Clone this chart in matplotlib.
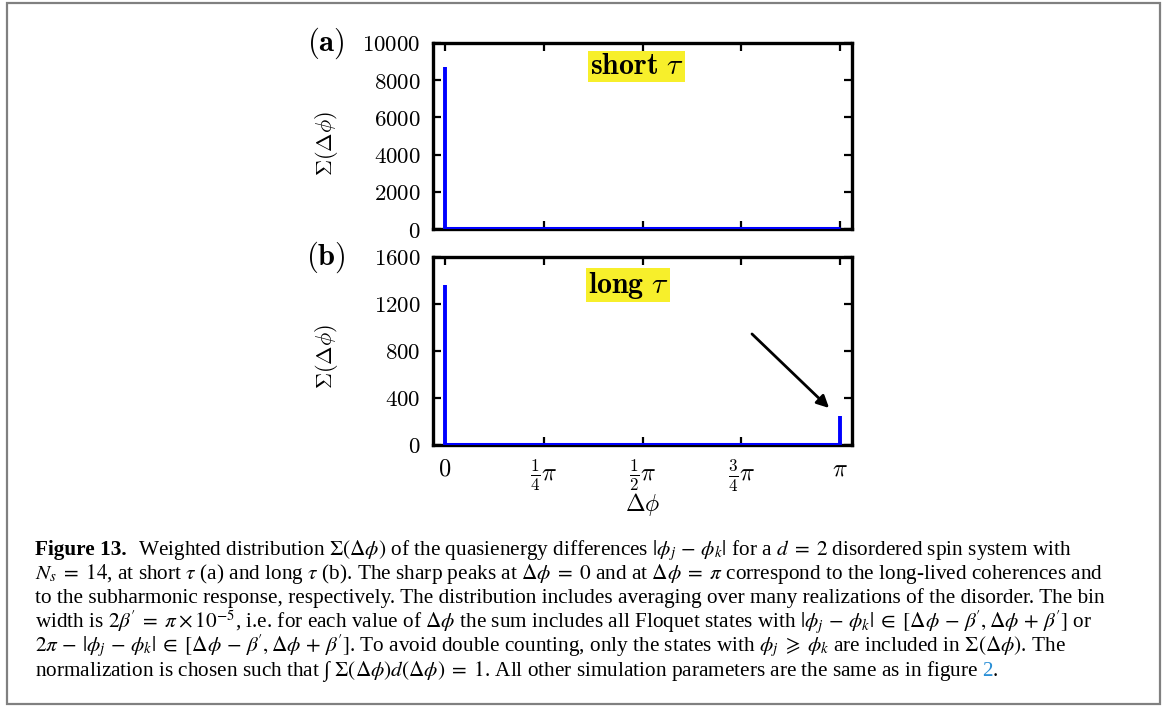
import numpy as np
import matplotlib
matplotlib.use("Agg")
import matplotlib.pyplot as plt
from matplotlib.patches import Rectangle

plt.rcParams["mathtext.fontset"] = "cm"
plt.rcParams["font.family"] = ["DejaVu Serif"]

# --- data ---
peak_pos = [0.0, np.pi]          # positions of the two sharp peaks
peak_a = [8700, 0]               # short tau
peak_b = [1360, 245]             # long tau
floor_a = 60                     # flat background level, panel (a)
floor_b = 12                     # flat background level, panel (b)

yticks_a = [0, 2000, 4000, 6000, 8000, 10000]
yticks_b = [0, 400, 800, 1200, 1600]
xticks = [0, np.pi / 4, np.pi / 2, 3 * np.pi / 4, np.pi]
xtick_labels = [r"$0$", r"$\frac{1}{4}\pi$", r"$\frac{1}{2}\pi$",
                r"$\frac{3}{4}\pi$", r"$\pi$"]

arrow_tail = (0.777 * np.pi, 945)
arrow_head = (0.972 * np.pi, 315)

EQ = r"\;=\;"
MI = r"\,-\,"
PL = r"\,+\,"
IN = r"\;\in\;"
BP = r"\beta^{\!\prime}"
caption = [
    [(r"Figure 13.", dict(fontweight="bold")),
     (r"Weighted distribution $\Sigma(\Delta\phi)$ of the quasienergy differences "
      r"$|\phi_j" + MI + r"\phi_k|$ for a $d" + EQ + r"2$ disordered spin system with", {})],
    [(r"$N_s" + EQ + r"14$, at short $\tau$ (a) and long $\tau$ (b). The sharp peaks at "
      r"$\Delta\phi" + EQ + r"0$ and at $\Delta\phi" + EQ + r"\pi$ correspond to the "
      r"long-lived coherences and", {})],
    [(r"to the subharmonic response, respectively. The distribution includes averaging "
      r"over many realizations of the disorder. The bin", {})],
    [(r"width is $2" + BP + EQ + r"\pi \times 10^{-5}$, i.e. for each value of $\Delta\phi$ "
      r"the sum includes all Floquet states with $|\phi_j" + MI + r"\phi_k|" + IN
      + r"[\Delta\phi" + MI + BP + r", \Delta\phi" + PL + BP + r"]$ or", {})],
    [(r"$2\pi" + MI + r"|\phi_j" + MI + r"\phi_k|" + IN + r"[\Delta\phi" + MI
      + BP + r", \Delta\phi" + PL + BP + r"]$. To avoid double counting, only the states "
      r"with $\phi_j \;\geqslant\; \phi_k$ are included in $\Sigma(\Delta\phi)$. The", {})],
    [(r"normalization is chosen such that ∫ $\Sigma(\Delta\phi)d(\Delta\phi)" + EQ + r"1$. "
      r"All other simulation parameters are the same as in figure", {}),
     (r"2", dict(color="#2a8fd6")),
     (r".", {})],
]

W, H = 1165, 708
fig = plt.figure(figsize=(W / 100, H / 100), dpi=100)


def px_axes(left, top, right, bottom):
    return fig.add_axes([left / W, 1 - bottom / H, (right - left) / W, (bottom - top) / H])


ax_a = px_axes(433, 43, 852, 229)
ax_b = px_axes(433, 257, 852, 445)

blue = "#0000ff"
for ax, peaks, floor, yt, tag, label, lx, ly, ylab_y in [
    (ax_a, peak_a, floor_a, yticks_a, "(a)", r"$\mathbf{short}\ \tau$", 0.486, 0.876, 0.46),
    (ax_b, peak_b, floor_b, yticks_b, "(b)", r"$\mathbf{long}\ \tau$", 0.466, 0.851, 0.468),
]:
    ax.hlines(floor, 0, np.pi, color=blue, lw=2.2, zorder=3)
    ax.vlines(peak_pos, 0, peaks, color=blue, lw=2.8, zorder=3)
    ax.set_xlim(-0.030 * np.pi, 1.030 * np.pi)
    ax.set_ylim(yt[0], yt[-1])
    ax.set_yticks(yt)
    ax.set_yticklabels([f"${v}$" for v in yt], fontsize=16.5)
    ax.set_xticks(xticks)
    ax.tick_params(direction="in", length=6, width=1.6, top=True, right=True, pad=9)
    for sp in ax.spines.values():
        sp.set_linewidth(2.4)
    ax.set_ylabel(r"$\Sigma(\Delta\phi)$", fontsize=16)
    ax.yaxis.set_label_coords(-0.222, ylab_y)
    ax.text(lx, ly, label, transform=ax.transAxes, fontsize=21.5, ha="center", va="center",
            bbox=dict(facecolor="#f7ef2b", edgecolor="none", pad=1.0))
    ax.text(-0.255, 1.0, r"$\mathbf{" + tag + "}$", transform=ax.transAxes,
            fontsize=22, ha="center", va="center")

ax_a.set_xticklabels([])
ax_b.set_xticklabels(xtick_labels, fontsize=17.5)
ax_b.set_xlabel(r"$\Delta\phi$", fontsize=17)
ax_b.xaxis.set_label_coords(0.5, -0.245)

ax_b.annotate("", xy=arrow_head, xytext=arrow_tail,
              arrowprops=dict(arrowstyle="-|>", color="black", lw=2.0,
                              mutation_scale=18, shrinkA=0, shrinkB=0))

# --- caption, laid out piece by piece ---
renderer = fig.canvas.get_renderer()
base = dict(family="Liberation Serif", math_fontfamily="stix", fontsize=15.3, va="baseline")
x0 = 35 / W
baselines = [555, 579, 603, 628, 652, 676]
for yb, parts in zip(baselines, caption):
    x = x0
    for i, (s, kw) in enumerate(parts):
        t = fig.text(x, 1 - yb / H, s, **base, **kw)
        x += t.get_window_extent(renderer).width / W
        if kw.get("fontweight") == "bold":
            x += 11 / W
        elif i + 1 < len(parts) and parts[i + 1][0] != ".":
            x += 4 / W

fig.add_artist(Rectangle((7 / W, 1 - 704 / H), 1153 / W, 701 / H, transform=fig.transFigure,
                         fill=False, edgecolor="#808080", lw=1.6))

fig.savefig("out.png", dpi=100)
